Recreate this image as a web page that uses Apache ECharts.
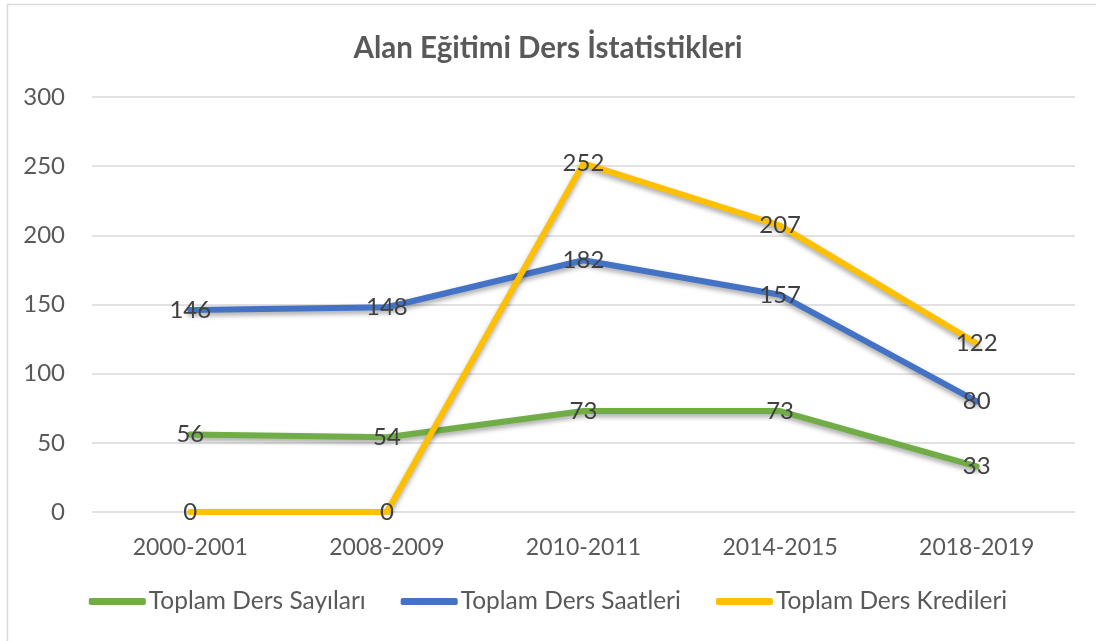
<!DOCTYPE html>
<html>
<head>
<meta charset="utf-8">
<script src="https://cdn.jsdelivr.net/npm/echarts@6/dist/echarts.min.js"></script>
<style>
  html, body { margin: 0; padding: 0; background: #fff; }
  #chart { width: 1096px; height: 641px; }
</style>
</head>
<body>
<div id="chart"></div>
<script>
// data
const categories = ['2000-2001', '2008-2009', '2010-2011', '2014-2015', '2018-2019']
const dersSayilari = [56, 54, 73, 73, 33]
const dersSaatleri = [146, 148, 182, 157, 80]
const dersKredileri = [0, 0, 252, 207, 122]
const seriesNames = ['Toplam Ders Sayıları', 'Toplam Ders Saatleri', 'Toplam Ders Kredileri']
const colorList = ['#70AD47', '#4472C4', '#FFC000']

const fontFamily = 'Lato, "Open Sans", sans-serif'

const makeLine = (name, data, color) => ({
  name: name,
  type: 'line',
  data: data,
  symbol: 'circle',
  symbolSize: 1,
  lineStyle: {
    width: 6,
    color: color,
    cap: 'round',
    join: 'round',
    shadowColor: 'rgba(0,0,0,0.35)',
    shadowBlur: 5,
    shadowOffsetY: 3
  },
  itemStyle: { color: color },
  label: {
    show: true,
    position: 'inside',
    color: '#404040',
    fontSize: 24,
    fontFamily: fontFamily
  },
  emphasis: { disabled: true }
})

const chart = echarts.init(document.getElementById('chart'))
const option = {
  animation: false,
  color: colorList,
  title: {
    text: 'Alan Eğitimi Ders İstatistikleri',
    left: 'center',
    top: 28,
    textStyle: {
      color: '#595959',
      fontSize: 29.5,
      fontWeight: 'bold',
      fontFamily: fontFamily
    }
  },
  // chart border
  graphic: [
    {
      type: 'rect',
      shape: { x: 7.5, y: 4.5, width: 1200, height: 800 },
      style: { fill: 'none', stroke: '#d9d9d9', lineWidth: 1.5 },
      silent: true
    }
  ],
  legend: {
    bottom: 22,
    left: 'center',
    icon: 'roundRect',
    itemWidth: 57,
    itemHeight: 7,
    itemGap: 35,
    textStyle: {
      color: '#595959',
      fontSize: 24.5,
      fontFamily: fontFamily,
      padding: [0, 0, 0, -2]
    },
    data: seriesNames
  },
  grid: {
    left: 92,
    right: 21,
    top: 97,
    bottom: 129
  },
  xAxis: {
    type: 'category',
    data: categories,
    boundaryGap: true,
    axisTick: { show: false },
    axisLine: { show: false },
    axisLabel: {
      color: '#595959',
      fontSize: 23,
      margin: 24,
      fontFamily: fontFamily
    }
  },
  yAxis: {
    type: 'value',
    min: 0,
    max: 300,
    interval: 50,
    axisLine: { show: false },
    axisTick: { show: false },
    splitLine: {
      lineStyle: { color: '#d9d9d9', width: 1.5 }
    },
    axisLabel: {
      color: '#595959',
      fontSize: 24,
      margin: 27,
      fontFamily: fontFamily
    }
  },
  series: [
    makeLine(seriesNames[0], dersSayilari, colorList[0]),
    makeLine(seriesNames[1], dersSaatleri, colorList[1]),
    makeLine(seriesNames[2], dersKredileri, colorList[2])
  ]
}
chart.setOption(option)
</script>
</body>
</html>
